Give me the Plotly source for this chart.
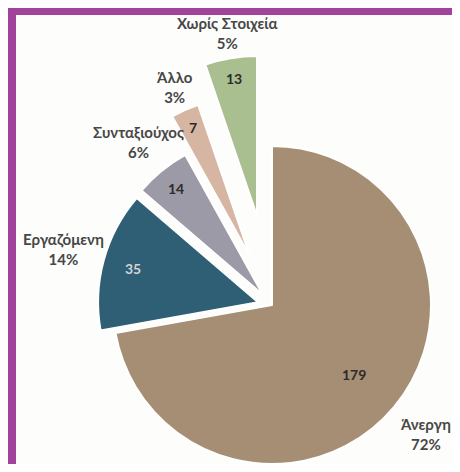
import math
import plotly.graph_objects as go

# data
labels = ["Άνεργη", "Εργαζόμενη", "Συνταξιούχος", "Άλλο", "Χωρίς Στοιχεία"]
values = [179, 35, 14, 7, 13]
colors = ["#A68E74", "#2F5F74", "#9C9AA6", "#D6B6A2", "#A9BF90"]
pulls = [0.0, 0.09, 0.09, 0.34, 0.57]  # exploded slices, fraction of radius

W, H = 444, 456    # page adds an 8px body margin all round
R = 160            # pie radius in px
CX, CY = 264, 298  # pie centre in px (from top-left of the figure)
# where the texts sit along each slice's mid line, as a fraction of R
VALUE_R = [0.67, 0.81, 0.86, 0.88, 0.87]
LABEL_R = [1.25, 1.26, 1.23, 1.16, 1.16]

FONT = "Lato, 'Open Sans', sans-serif"
clear = "rgba(0,0,0,0)"

total = sum(values)
fig = go.Figure()


def to_paper(x, y):
    return x / W, 1 - y / H


start = 0.0
for i, (lab, val) in enumerate(zip(labels, values)):
    # mid angle of the slice, clockwise from 12 o'clock
    mid = (start + val / 2) / total * 2 * math.pi
    start += val
    sx, sy = math.sin(mid), -math.cos(mid)
    d = pulls[i] * R
    px, py = CX + d * sx, CY + d * sy
    dom = dict(x=[(px - R) / W, (px + R) / W],
               y=[max(0, 1 - (py + R) / H), 1 - (py - R) / H])

    # one pie per slice so each can be pulled out on its own
    fig.add_trace(go.Pie(
        labels=labels, values=values, sort=False, direction="clockwise",
        rotation=0, domain=dom, textinfo="none",
        marker=dict(colors=[colors[i] if j == i else clear for j in range(len(values))],
                    line=dict(color="white",
                              width=[2 if j == i else 0 for j in range(len(values))])),
        hoverinfo="skip", showlegend=False,
    ))

    # value inside the slice
    vx, vy = to_paper(px + VALUE_R[i] * R * sx, py + VALUE_R[i] * R * sy)
    fig.add_annotation(x=vx, y=vy, xref="paper", yref="paper", showarrow=False,
                       xanchor="center", yanchor="middle",
                       text="<b>%d</b>" % val,
                       font=dict(family=FONT, size=14,
                                 color="#D4D4D4" if i == 1 else "#2B2B2B"))

    # category name + percent outside
    lx, ly = to_paper(px + LABEL_R[i] * R * sx, py + LABEL_R[i] * R * sy)
    fig.add_annotation(x=lx, y=ly, xref="paper", yref="paper", showarrow=False,
                       xanchor="center", yanchor="middle",
                       text="<b>%s<br>%.0f%%</b>" % (lab, val / total * 100),
                       font=dict(family=FONT, size=15, color="#474747"))

# purple frame round the picture
fig.add_shape(type="rect", xref="paper", yref="paper",
              x0=4 / W, x1=1.05, y0=-0.05, y1=1 - 3 / H,
              line=dict(color="#A1429B", width=8), layer="below")

fig.update_layout(
    width=W, height=H,
    margin=dict(l=0, r=0, t=0, b=0),
    paper_bgcolor="#FDFDFB",
    plot_bgcolor="#FDFDFB",
)

fig.write_html("out.html")
